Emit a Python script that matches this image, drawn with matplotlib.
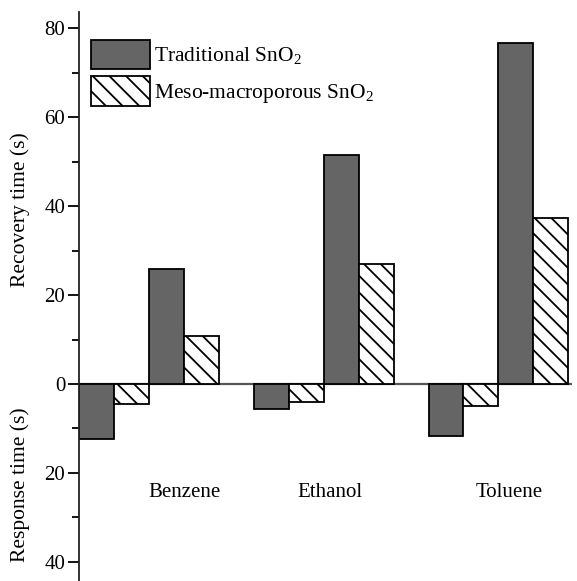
import matplotlib
matplotlib.use("Agg")
import matplotlib.pyplot as plt
import numpy as np

plt.rcParams['font.family'] = 'Liberation Serif'
plt.rcParams['mathtext.fontset'] = 'custom'
plt.rcParams['mathtext.rm'] = 'Liberation Serif'
plt.rcParams['hatch.linewidth'] = 1.3

# values
categories = ["Benzene", "Ethanol", "Toluene"]
response_trad = [12.3, 5.6, 11.8]
response_meso = [4.5, 4.0, 5.0]
recovery_trad = [25.8, 51.5, 76.6]
recovery_meso = [10.8, 27.0, 37.3]
label_x = [3.03, 7.17, 12.3]

dark = "#656565"

fig = plt.figure(figsize=(5.77, 5.81), dpi=100)
ax = fig.add_axes([0.137, 0.0, 0.854, 0.979])

g = np.arange(len(categories)) * 5
ax.bar(g + 0.5, -np.array(response_trad), width=1, color=dark, edgecolor="black", lw=1.3)
ax.bar(g + 1.5, -np.array(response_meso), width=1, color="white", edgecolor="black", hatch="\\\\", lw=1.3)
ax.bar(g + 2.5, recovery_trad, width=1, color=dark, edgecolor="black", lw=1.3,
       label="Traditional SnO$_2$")
ax.bar(g + 3.5, recovery_meso, width=1, color="white", edgecolor="black", hatch="\\\\", lw=1.3,
       label="Meso-macroporous SnO$_2$")

ax.axhline(0, color="#555555", lw=1.6, zorder=0)

for x, name in zip(label_x, categories):
    ax.text(x, -24.5, name, ha="center", va="center", fontsize=15)

ax.set_xlim(0, 14.1)
ax.set_ylim(-44.3, 83.6)
ax.set_xticks([])
for s in ["top", "right", "bottom"]:
    ax.spines[s].set_visible(False)
ax.spines["left"].set_linewidth(1.3)
ax.spines["left"].set_color("#222222")

major = [80, 60, 40, 20, 0, -20, -40]
ax.set_yticks(major)
ax.set_yticklabels([str(abs(v)) for v in major], fontsize=15)
ax.set_yticks([70, 50, 30, 10, -10, -30], minor=True)
ax.tick_params(axis="y", which="major", length=8, width=1.3, pad=2)
ax.tick_params(axis="y", which="minor", length=5, width=1.3)

fig.text(0.035, 0.639, "Recovery time (s)", rotation=90, ha="center", va="center", fontsize=15.5)
fig.text(0.035, 0.165, "Response time (s)", rotation=90, ha="center", va="center", fontsize=15.5)

ax.legend(loc="upper left", bbox_to_anchor=(0.006, 0.967), frameon=False, fontsize=15.5,
          handlelength=2.75, handleheight=1.75, handletextpad=0.2, labelspacing=0.3,
          borderaxespad=0)

fig.savefig("out.png", dpi=100)
